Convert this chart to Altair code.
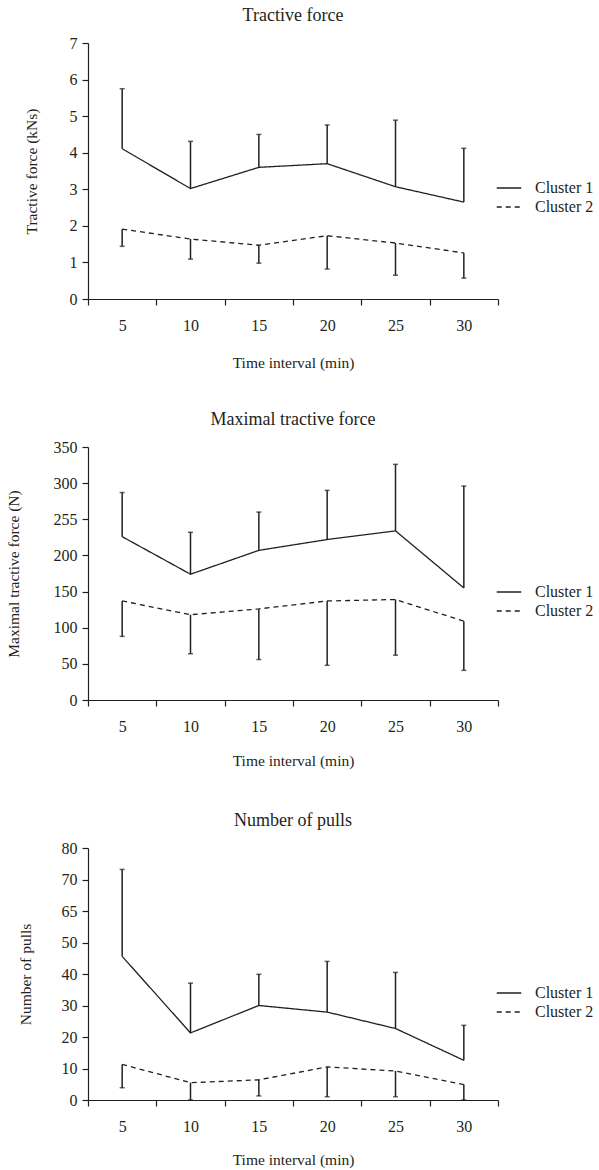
import altair as alt
import pandas as pd

# ---- data ----
time_min = [5, 10, 15, 20, 25, 30]
clusters = ["Cluster 1", "Cluster 2"]

tf_c1_mean = [4.11, 3.02, 3.60, 3.70, 3.07, 2.65]
tf_c1_upper = [5.75, 4.31, 4.50, 4.76, 4.89, 4.12]
tf_c2_mean = [1.91, 1.64, 1.47, 1.73, 1.53, 1.26]
tf_c2_lower = [1.44, 1.09, 0.98, 0.82, 0.65, 0.57]

mtf_c1_mean = [226, 174, 207, 222, 234, 155]
mtf_c1_upper = [287, 232, 260, 290, 326, 296]
mtf_c2_mean = [137, 118, 126, 137, 139, 109]
mtf_c2_lower = [88, 64, 56, 48, 62, 41]

np_c1_mean = [45.6, 21.3, 30.0, 27.9, 22.7, 12.6]
np_c1_upper = [73.2, 37.1, 39.9, 44.0, 40.5, 23.7]
np_c2_mean = [11.3, 5.5, 6.4, 10.5, 9.2, 4.9]
np_c2_lower = [3.9, 0.0, 1.3, 1.05, 1.05, 0.0]

x_tick_values = [2.5, 5, 7.5, 10, 12.5, 15, 17.5, 20, 22.5, 25, 27.5, 30, 32.5]

INK = "#231f20"
FONT = "Liberation Serif"
W = 410


def make_df(c1_mean, c1_end, c2_mean, c2_end):
    rows = []
    for t, m, e in zip(time_min, c1_mean, c1_end):
        rows.append({"time": t, "cluster": clusters[0], "mean": m, "end": e})
    for t, m, e in zip(time_min, c2_mean, c2_end):
        rows.append({"time": t, "cluster": clusters[1], "mean": m, "end": e})
    return pd.DataFrame(rows)


def panel(title, ytitle, df, ymax, ystep, label_expr, title_x, h, xtitle_pad):
    yvals = [float(v) for v in range(0, ymax + 1, ystep)]
    x = alt.X(
        "time:Q",
        scale=alt.Scale(domain=[2.5, 32.5], nice=False, zero=False),
        axis=alt.Axis(
            title="Time interval (min)",
            values=x_tick_values,
            labelExpr="datum.value % 5 == 0 ? datum.label : ''",
            tickOpacity={"condition": {"test": "datum.value % 5 == 0", "value": 0}, "value": 1},
            labelOverlap=False,
            labelFlush=False,
            tickSize=6,
            labelPadding=12,
            titlePadding=xtitle_pad,
            labelFont=FONT,
            titleFont=FONT,
        ),
    )
    yscale = alt.Scale(domain=[0, ymax], nice=False, zero=True)
    yaxis = alt.Axis(
        title=ytitle,
        values=yvals,
        tickCount=len(yvals),
        labelExpr=label_expr,
        labelOverlap=False,
        labelFlush=False,
        tickSize=6,
        labelPadding=5,
        titleX=title_x,
        titleY=h / 2,
        titleBaseline="middle",
        labelFont=FONT,
        titleFont=FONT,
    )
    base = alt.Chart(df)
    rules = base.mark_rule(color=INK, strokeWidth=1.5).encode(
        x=x, y=alt.Y("mean:Q", scale=yscale, axis=yaxis), y2="end:Q"
    )
    caps = base.mark_tick(color=INK, orient="horizontal", size=5, thickness=1.5).encode(
        x=x, y=alt.Y("end:Q", scale=yscale, axis=yaxis)
    )
    line = base.mark_line(color=INK, strokeWidth=1.3).encode(
        x=x,
        y=alt.Y("mean:Q", scale=yscale, axis=yaxis),
        strokeDash=alt.StrokeDash(
            "cluster:N",
            scale=alt.Scale(domain=clusters, range=[[1, 0], [5, 4]]),
            legend=alt.Legend(
                title=None,
                orient="none",
                legendX=W + 3,
                legendY=137,
                symbolType="M-2,0H2",
                symbolSize=150,
                symbolStrokeWidth=1.3,
                symbolStrokeColor=INK,
                symbolFillColor="transparent",
                labelFontSize=16,
                labelFont=FONT,
                labelColor=INK,
                labelOffset=18,
                rowPadding=3,
                padding=0,
            ),
        ),
    )
    return alt.layer(rules, caps, line).properties(
        width=W,
        height=h,
        title=alt.TitleParams(title, fontSize=18, font=FONT, color=INK, fontWeight="normal",
                              anchor="middle", frame="group", offset=10),
    )


p1 = panel("Tractive force", "Tractive force (kNs)",
           make_df(tf_c1_mean, tf_c1_upper, tf_c2_mean, tf_c2_lower),
           7, 1, "datum.label", -57, 256, 22)
p2 = panel("Maximal tractive force", "Maximal tractive force (N)",
           make_df(mtf_c1_mean, mtf_c1_upper, mtf_c2_mean, mtf_c2_lower),
           350, 50, "datum.value == 250 ? '255' : datum.label", -75, 253, 19)
p3 = panel("Number of pulls", "Number of pulls",
           make_df(np_c1_mean, np_c1_upper, np_c2_mean, np_c2_lower),
           80, 10, "datum.value == 60 ? '65' : datum.label", -63, 252, 18)

chart = (
    alt.vconcat(p1, p2, p3, spacing=148, bounds="flush")
    .resolve_scale(y="independent", strokeDash="independent")
    .resolve_legend(strokeDash="independent")
    .configure(font=FONT)
    .configure_view(stroke=None)
    .configure_axis(
        grid=False,
        domainColor=INK,
        domainWidth=1.2,
        tickColor=INK,
        tickWidth=1.2,
        labelColor=INK,
        labelFont=FONT,
        labelFontSize=16,
        titleColor=INK,
        titleFont=FONT,
        titleFontSize=15.5,
        titleFontWeight="normal",
    )
    .properties(background="white", padding={"left": 5, "right": 5, "top": 7, "bottom": 3})
)

chart.save("out.html", embed_options={"renderer": "svg", "actions": False})
